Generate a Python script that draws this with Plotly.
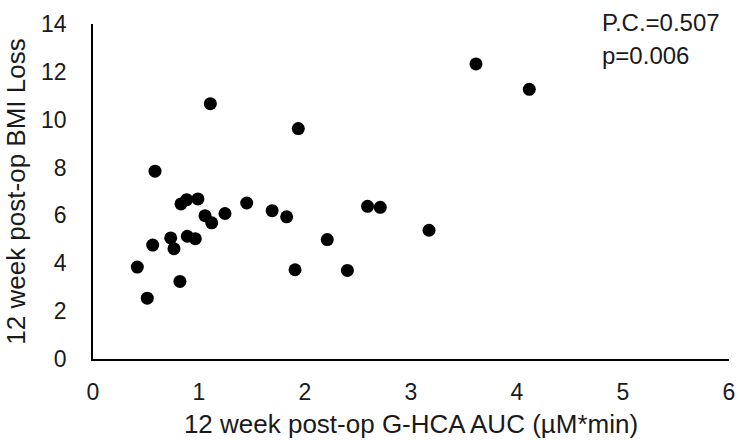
import plotly.graph_objects as go

auc = [0.585, 0.83, 0.884, 0.99, 1.057, 1.12, 1.245, 1.45, 1.69, 0.733, 0.764, 0.89, 0.965,
       0.563, 0.418, 0.82, 0.512, 1.937, 1.827, 2.21, 2.59, 2.71, 3.17, 1.906, 2.40,
       3.613, 4.116, 1.107]
bmi_loss = [7.85, 6.48, 6.66, 6.69, 5.99, 5.69, 6.08, 6.52, 6.2, 5.06, 4.61, 5.13, 5.03,
            4.76, 3.84, 3.24, 2.54, 9.63, 5.94, 4.99, 6.38, 6.34, 5.38, 3.73, 3.70,
            12.33, 11.27, 10.67]
x_ticks = [0, 1, 2, 3, 4, 5, 6]
y_ticks = [0, 2, 4, 6, 8, 10, 12, 14]
stats_lines = ["P.C.=0.507", "p=0.006"]

FONT = "Liberation Sans, Arial, sans-serif"
TXT = "#1a1a1a"

fig = go.Figure()
fig.add_trace(go.Scatter(
    x=auc, y=bmi_loss, mode="markers",
    marker=dict(color="black", size=13, line=dict(width=0)),
    showlegend=False, cliponaxis=False,
))

fig.update_layout(
    width=740, height=440,
    margin=dict(l=93, r=11, t=24, b=81),
    paper_bgcolor="white", plot_bgcolor="white",
    font=dict(family=FONT, size=23, color=TXT),
    xaxis=dict(
        range=[0, 6], tickvals=x_ticks, ticktext=[str(v) for v in x_ticks],
        showgrid=False, zeroline=False, showline=True, linecolor="black", linewidth=1.5,
        ticks="", ticklabelstandoff=12, tickfont=dict(size=23),
        title=dict(text="12 week post-op G-HCA AUC (\u00b5M*min)", standoff=10,
                   font=dict(size=26, color=TXT)),
        automargin=False,
    ),
    yaxis=dict(
        range=[0, 14], tickvals=y_ticks, ticktext=[str(v) for v in y_ticks],
        showgrid=False, zeroline=False, showline=True, linecolor="black", linewidth=1.5,
        ticks="", ticklabelstandoff=20, tickfont=dict(size=23),
        title=dict(text="12 week post-op BMI Loss", standoff=8,
                   font=dict(size=26, color=TXT)),
        automargin=False,
    ),
)

fig.add_annotation(x=0.797, y=1.003, xref="paper", yref="paper", text=stats_lines[0],
                   showarrow=False, xanchor="left", yanchor="middle",
                   font=dict(size=24, color=TXT, family=FONT))
fig.add_annotation(x=0.797, y=0.907, xref="paper", yref="paper", text=stats_lines[1],
                   showarrow=False, xanchor="left", yanchor="middle",
                   font=dict(size=24, color=TXT, family=FONT))

fig.write_html("out.html")
